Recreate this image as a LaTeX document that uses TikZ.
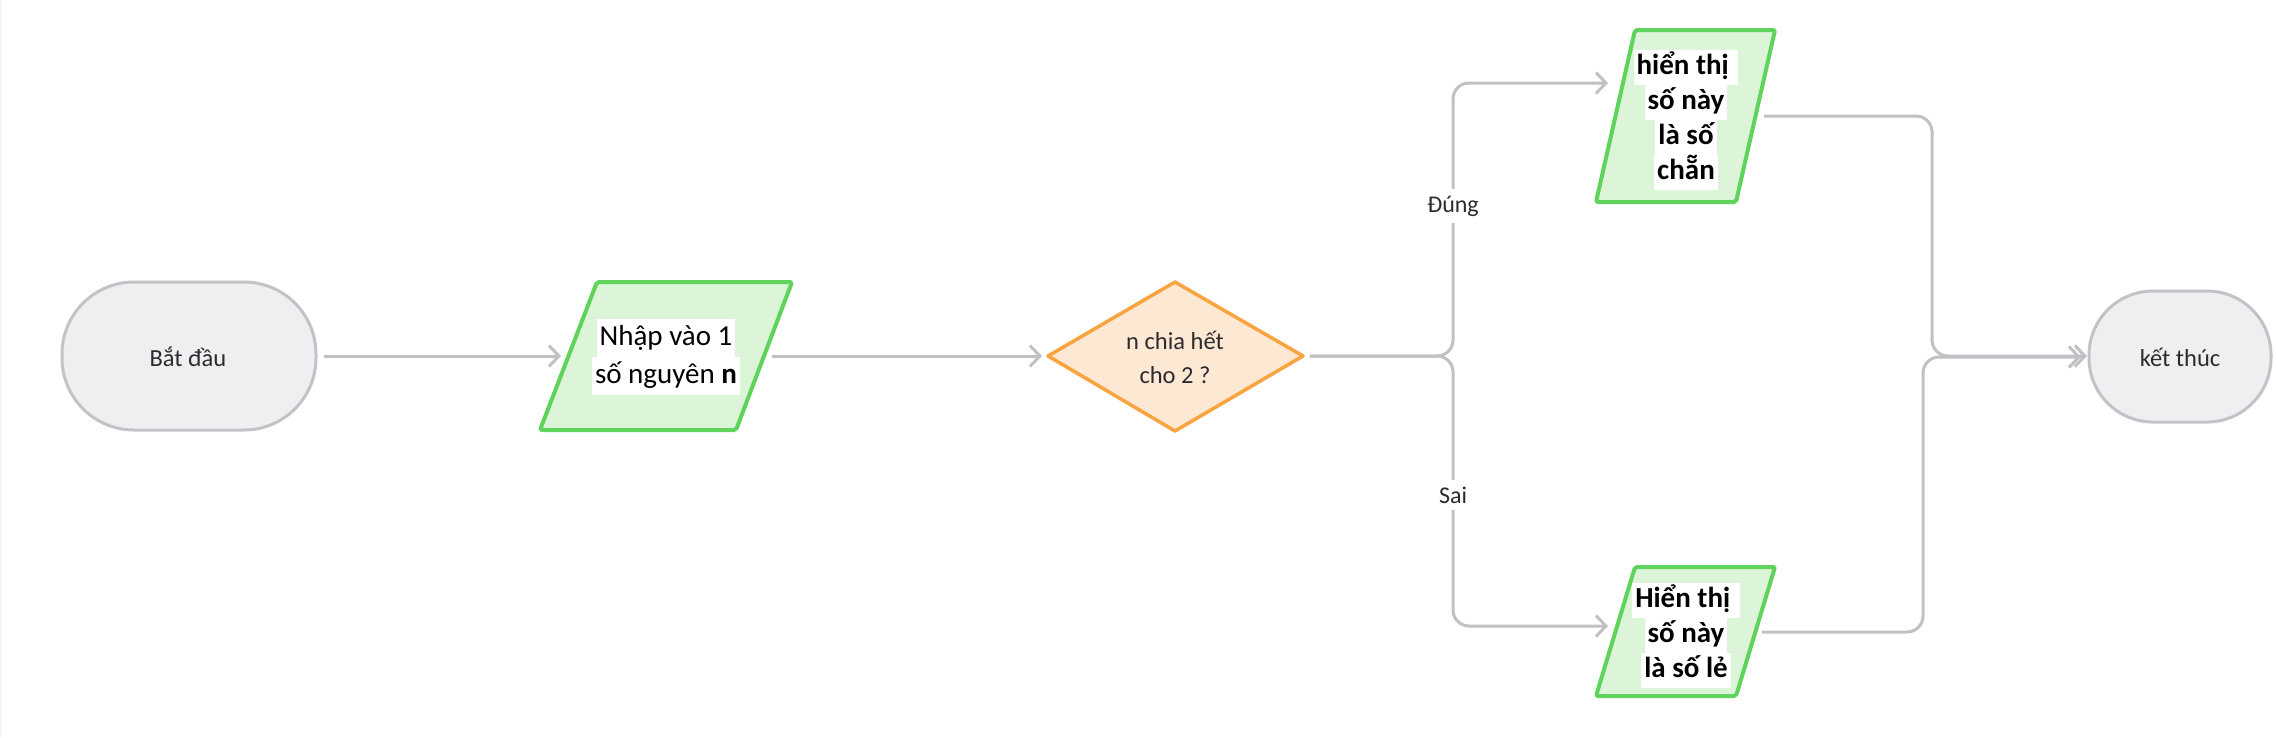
\documentclass[tikz,border=0pt]{standalone}
\usepackage{fontspec}
\setmainfont{Carlito}
\usetikzlibrary{arrows.meta}
\definecolor{cline}{HTML}{BFC1C5}
\definecolor{pillfill}{HTML}{EEEFF1}
\definecolor{pilldraw}{HTML}{C1C3C7}
\definecolor{iofill}{HTML}{DCF5D9}
\definecolor{iodraw}{HTML}{5FD35B}
\definecolor{decfill}{HTML}{FDE8D3}
\definecolor{decdraw}{HTML}{F9A43F}
\definecolor{txt}{HTML}{2B2B30}
\newcommand\wl[1]{{\setlength{\fboxsep}{0pt}\colorbox{white}{\rule[-0.3\baselineskip]{0pt}{\baselineskip}\hspace{3pt}#1\hspace{3pt}}}}
\tikzset{
  conn/.style={draw=cline, line width=3pt, rounded corners=16pt},
  arr/.style={-{Straight Barb[length=10pt,width=21pt]}},
  pill/.style={draw=pilldraw, fill=pillfill, line width=3pt},
  iobox/.style={draw=iodraw, fill=iofill, line width=4pt, rounded corners=2pt, line join=round},
  decbox/.style={draw=decdraw, fill=decfill, line width=3.5pt, line join=round},
  reg/.style={text=txt, font=\fontsize{24.5}{34}\selectfont, align=center, inner sep=0pt},
  iotext/.style={text=black, align=center, inner sep=0pt},
  lbl/.style={text=txt, font=\fontsize{24}{30}\selectfont, fill=white, inner sep=7pt}
}
\begin{document}
\begin{tikzpicture}[x=1pt,y=-1pt]
\useasboundingbox (0,0) rectangle (2276,737);
\fill[white] (0,0) rectangle (2276,737);
\draw[black!4, line width=2pt] (1,0) -- (1,737);

% shapes
\draw[pill, rounded corners=72pt] (62,282) rectangle (316,430);
\node[reg] (start) at (188,357) {Bắt đầu};

\draw[iobox] (597,282) -- (792,282) -- (736,430) -- (540,430) -- cycle;
\node[iotext, font=\fontsize{29}{38}\selectfont] (input) at (666,357) {\wl{Nhập vào 1}\\\wl{số nguyên \textbf{n}}};

\draw[decbox] (1048,356) -- (1175,282) -- (1303,356) -- (1175,431) -- cycle;
\node[reg] (dec) at (1175,357) {n chia hết\\cho 2 ?};

\draw[iobox] (1635,30) -- (1775,30) -- (1736,202) -- (1596,202) -- cycle;
\node[iotext, font=\fontsize{29}{35}\selectfont\bfseries] (even) at (1686,120) {\wl{hiển thị\ }\\\wl{số này}\\\wl{là số}\\\wl{chẵn}};

\draw[iobox] (1635,567) -- (1775,567) -- (1736,696) -- (1596,696) -- cycle;
\node[iotext, font=\fontsize{29}{35}\selectfont\bfseries] (odd) at (1686,635) {\wl{Hiển thị\ }\\\wl{số này}\\\wl{là số lẻ}};

\draw[pill, rounded corners=64pt] (2089,291) rectangle (2271,422);
\node[reg] (end) at (2180,357) {kết thúc};

% connector end points
\coordinate (s-out) at (324,356);
\coordinate (i-in) at (561,356);
\coordinate (i-out) at (772,356);
\coordinate (d-in) at (1042,356);
\coordinate (d-out) at (1310,356);
\coordinate (split) at (1453,356);
\coordinate (e-in) at (1608,83);
\coordinate (o-in) at (1608,626);
\coordinate (e-out) at (1764,116);
\coordinate (o-out) at (1762,632);
\coordinate (m1) at (1932,356);
\coordinate (m2) at (1923,357);
\coordinate (end-in1) at (2087,356);
\coordinate (end-in2) at (2081,357);

% connectors
\draw[conn, arr] (s-out) -- (i-in);
\draw[conn, arr] (i-out) -- (d-in);
\draw[conn, arr] (d-out) -- (split) |- (e-in);
\draw[conn, arr] (d-out) -- (split) |- (o-in);
\draw[conn, arr] (e-out) -| (m1) -- (end-in1);
\draw[conn, arr] (o-out) -| (m2) -- (end-in2);

% labels
\node[lbl] (yes) at (1453,206) {Đúng};
\node[lbl] (no) at (1453,495) {Sai};
\end{tikzpicture}
\end{document}
